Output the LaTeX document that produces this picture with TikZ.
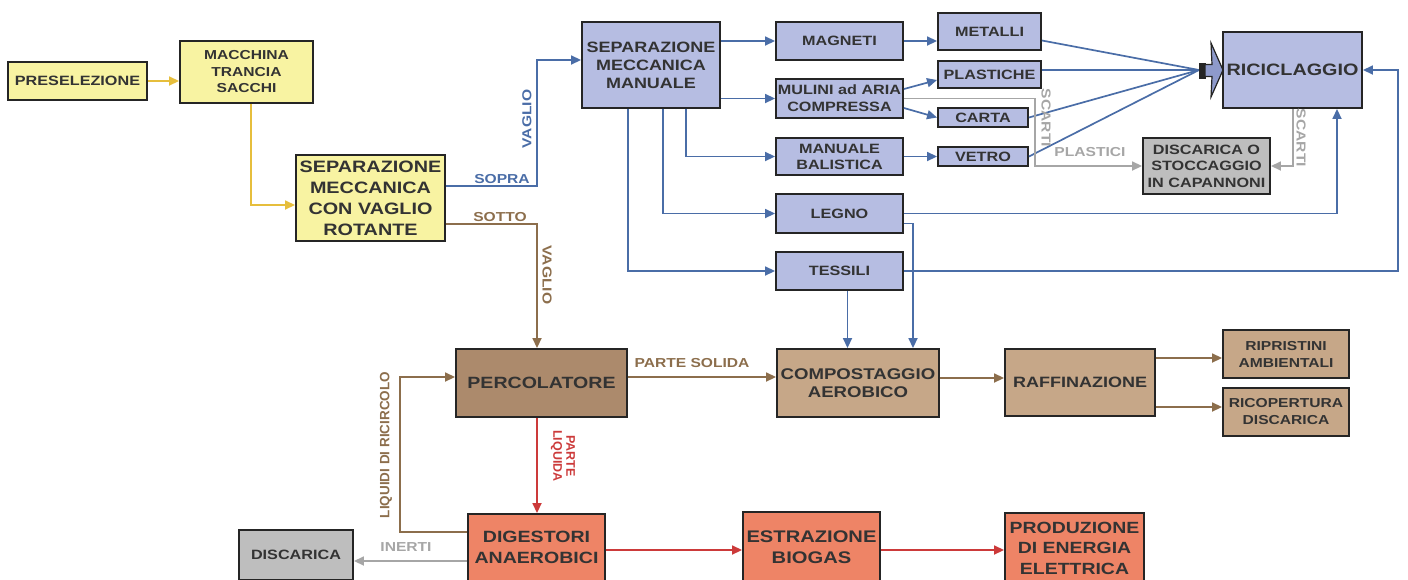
\documentclass[tikz,border=0pt]{standalone}
\usepackage{fontspec}
\usetikzlibrary{arrows.meta}
\newfontfamily\bxf[FakeStretch=1.2]{Liberation Sans}
\newfontfamily\rxf{Liberation Sans}
\definecolor{yfill}{HTML}{F8F3A2}
\definecolor{bfill}{HTML}{B6BDE2}
\definecolor{brfillA}{HTML}{AC8A6C}
\definecolor{brfill}{HTML}{C6A788}
\definecolor{rfill}{HTML}{EE8466}
\definecolor{gfill}{HTML}{BEBEBE}
\definecolor{boxline}{HTML}{252525}
\definecolor{txt}{HTML}{333333}
\definecolor{ycol}{HTML}{E6BE3C}
\definecolor{bcol}{HTML}{4A6DA7}
\definecolor{brcol}{HTML}{8C6E4C}
\definecolor{rcol}{HTML}{CC3A3A}
\definecolor{gcol}{HTML}{A6A6A6}
\definecolor{arrfill}{HTML}{8E9ACB}
\tikzset{
  box/.style={draw=boxline, line width=1.9pt, inner sep=0pt, align=center, text=txt},
  fsz/.style 2 args={font=\bxf\bfseries\fontsize{#1}{#2}\selectfont},
  ybox/.style={box, fill=yfill},
  bbox/.style={box, fill=bfill},
  brbox/.style={box, fill=brfill},
  rbox/.style={box, fill=rfill},
  gbox/.style={box, fill=gfill},
  tip/.style={-{Triangle[length=10pt,width=9pt]}},
  conn/.style={line width=1.7pt},
  yl/.style={conn, draw=ycol, tip},
  bl/.style={conn, draw=bcol, tip},
  bln/.style={conn, draw=bcol},
  brl/.style={conn, draw=brcol, tip},
  rl/.style={conn, draw=rcol, tip},
  gl/.style={conn, draw=gcol, tip},
  lab/.style={inner sep=0pt, font=\bxf\bfseries\fontsize{13}{15}\selectfont},
  rlab/.style={inner sep=0pt, align=center, font=\rxf\bfseries\fontsize{13.5}{14}\selectfont},
}
\begin{document}
\begin{tikzpicture}[x=1pt,y=-1pt]
\useasboundingbox (0,0) rectangle (1408,579);
% yellow
\node[ybox, fsz={13.5}{16}, minimum width=139pt, minimum height=38pt] (pre) at (77.5,81) {PRESELEZIONE};
\node[ybox, fsz={13}{16.5}, minimum width=133pt, minimum height=62pt] (mac) at (246.5,72) {MACCHINA\\TRANCIA\\SACCHI};
\node[ybox, fsz={16.5}{21}, minimum width=149pt, minimum height=86pt] (smv) at (370.5,198) {SEPARAZIONE\\MECCANICA\\CON VAGLIO\\ROTANTE};
% blue
\node[bbox, fsz={15}{18}, minimum width=138pt, minimum height=86pt] (smm) at (651,65) {SEPARAZIONE\\MECCANICA\\MANUALE};
\node[bbox, fsz={13.5}{16}, minimum width=127pt, minimum height=38pt] (mag) at (839.5,41) {MAGNETI};
\node[bbox, fsz={13.5}{16}, minimum width=103pt, minimum height=37pt] (met) at (989.5,31.5) {METALLI};
\node[bbox, fsz={13.5}{17}, minimum width=127pt, minimum height=39pt] (mul) at (839.5,98.5) {MULINI ad ARIA\\COMPRESSA};
\node[bbox, fsz={13.5}{16}, minimum width=103pt, minimum height=27pt] (pla) at (989.5,74.5) {PLASTICHE};
\node[bbox, fsz={13.5}{16}, minimum width=90pt, minimum height=19pt] (car) at (983,117.5) {CARTA};
\node[bbox, fsz={13.5}{16}, minimum width=127pt, minimum height=37pt] (man) at (839.5,156.5) {MANUALE\\BALISTICA};
\node[bbox, fsz={13.5}{16}, minimum width=90pt, minimum height=19pt] (vet) at (983,156.5) {VETRO};
\node[bbox, fsz={13.5}{16}, minimum width=127pt, minimum height=39pt] (leg) at (839.5,213.5) {LEGNO};
\node[bbox, fsz={13.5}{16}, minimum width=127pt, minimum height=38pt] (tes) at (839.5,271) {TESSILI};
\node[bbox, fsz={16.5}{19}, minimum width=139pt, minimum height=76pt] (ric) at (1292.5,70) {RICICLAGGIO};
\node[gbox, fsz={13.5}{16.5}, minimum width=127pt, minimum height=56pt] (dis1) at (1206.5,166) {DISCARICA O\\STOCCAGGIO\\IN CAPANNONI};
% brown
\node[box, fill=brfillA, fsz={16.3}{19}, minimum width=171pt, minimum height=68pt] (perc) at (541.5,383) {PERCOLATORE};
\node[brbox, fsz={15.5}{18}, minimum width=162pt, minimum height=68pt] (comp) at (858,383) {COMPOSTAGGIO\\AEROBICO};
\node[brbox, fsz={15}{18}, minimum width=150pt, minimum height=67pt] (raff) at (1080,382.5) {RAFFINAZIONE};
\node[brbox, fsz={13}{17}, minimum width=126pt, minimum height=48pt] (rip) at (1286,354) {RIPRISTINI\\AMBIENTALI};
\node[brbox, fsz={13}{17}, minimum width=126pt, minimum height=48pt] (ricop) at (1286,412) {RICOPERTURA\\DISCARICA};
% red / salmon
\node[rbox, fsz={16.3}{21}, minimum width=137pt, minimum height=67pt] (dig) at (536.5,547.5) {DIGESTORI\\ANAEROBICI};
\node[rbox, fsz={16.8}{21}, minimum width=137pt, minimum height=71pt] (est) at (811.5,547.5) {ESTRAZIONE\\BIOGAS};
\node[rbox, fsz={16.2}{20.5}, minimum width=139pt, minimum height=70pt] (prod) at (1074.5,548) {PRODUZIONE\\DI ENERGIA\\ELETTRICA};
\node[gbox, fsz={13.5}{16}, minimum width=114pt, minimum height=50pt] (dis2) at (296,555) {DISCARICA};

% bend coordinates
\coordinate (vsop) at (537,120);
\coordinate (conv) at (1199,70);
\coordinate (tright) at (1398,200);
\coordinate (gs) at (1035,130);
\coordinate (lq) at (400,450);

% yellow connectors
\draw[yl] (pre.east) -- (pre.east -| mac.west);
\draw[yl] ([xshift=4.5pt]mac.south) |- ([yshift=-7pt]smv.west);

% sopra / sotto
\draw[bl] ([yshift=12pt]smv.east) -| (vsop) |- ([yshift=5pt]smm.west);
\draw[brl] ([yshift=-26pt]smv.east) -| ([xshift=-4.5pt]perc.north);
\node[lab, text=bcol] (lsopra) at (502,179) {SOPRA};
\node[lab, text=bcol, rotate=90] (lvag1) at (527,119) {VAGLIO};
\node[lab, text=brcol] (lsotto) at (500,217) {SOTTO};
\node[lab, text=brcol, rotate=-90] (lvag2) at (547,275) {VAGLIO};

% from manual separation
\draw[bl] (smm.east |- mag.west) -- (mag.west);
\draw[bl] (smm.east |- mul.west) -- (mul.west);
\draw[bl] ([xshift=35pt]smm.south) |- (man.west);
\draw[bl] ([xshift=12pt]smm.south) |- (leg.west);
\draw[bl] ([xshift=-23pt]smm.south) |- (tes.west);
\draw[bl] (mag.east) -- (mag.east -| met.west);
\draw[bl] ([yshift=9.5pt]mul.east) -- ([yshift=-5.5pt]pla.west);
\draw[bl] ([yshift=-9.5pt]mul.east) -- (car.west);
\draw[bl] (man.east) -- (vet.west);

% to recycling
\draw[bln] ([yshift=-9pt]met.east) -- (conv);
\draw[bln] ([yshift=4.5pt]pla.east) -- (conv);
\draw[bln] (car.east) -- (conv);
\draw[bln] (vet.east) -- (conv);
\fill[boxline] (1199,63) rectangle (1206,79);
\draw[fill=arrfill, draw=boxline, line width=1.2pt, line join=miter] (1205,64.5) -- (1212,64.5) -- (1211,43) -- (1223,70) -- (1211,97) -- (1212,76.5) -- (1205,76.5) -- cycle;
\draw[bl] (leg.east) -| ([xshift=44.5pt]ric.south);
\draw[bl] (tes.east) -| (tright) |- (ric.east);

% to composting
\draw[bl] ([yshift=-10pt]leg.east) -| ([xshift=55pt]comp.north);
\draw[bl] ([xshift=8pt]tes.south) -- ([xshift=8pt]tes.south |- comp.north);

% gray discards
\draw[gl] (mul.east) -| (gs) |- (dis1.west);
\draw[gl] ([xshift=0.5pt]ric.south) |- (dis1.east);
\node[lab, text=gcol, rotate=-90] (lsc1) at (1046,118) {SCARTI};
\node[lab, text=gcol] (lpla) at (1090,152) {PLASTICI};
\node[lab, text=gcol, rotate=-90] (lsc2) at (1301,138) {SCARTI};

% brown flow
\draw[brl] ([yshift=6pt]perc.east) -- ([yshift=6pt]comp.west);
\node[lab, text=brcol] (lsol) at (692,363) {PARTE SOLIDA};
\draw[brl] ([yshift=5pt]comp.east) -- ([yshift=4.5pt]raff.west);
\draw[brl] (raff.east |- 0,358) -- (rip.west |- 0,358);
\draw[brl] (raff.east |- 0,407) -- (ricop.west |- 0,407);
\draw[brl] (dig.west |- 0,532) -| (lq) |- ([yshift=6pt]perc.west);
\node[rlab, text=brcol, rotate=90] (lliq) at (386,445) {LIQUIDI DI RICIRCOLO};

% red flow
\draw[rl] ([xshift=-4.5pt]perc.south) -- ([xshift=-4.5pt]perc.south |- dig.north);
\node[rlab, text=rcol, rotate=-90, font=\rxf\bfseries\fontsize{12.5}{13}\selectfont] (lpliq) at (563,456) {PARTE\\LIQUIDA};
\draw[rl] (dig.east |- 0,550) -- (est.west |- 0,550);
\draw[rl] (est.east |- 0,550) -- (prod.west |- 0,550);

% inerti
\draw[gl] (dig.west |- 0,561) -- (dis2.east |- 0,561);
\node[lab, text=gcol] (liner) at (406,547) {INERTI};
\end{tikzpicture}
\end{document}
